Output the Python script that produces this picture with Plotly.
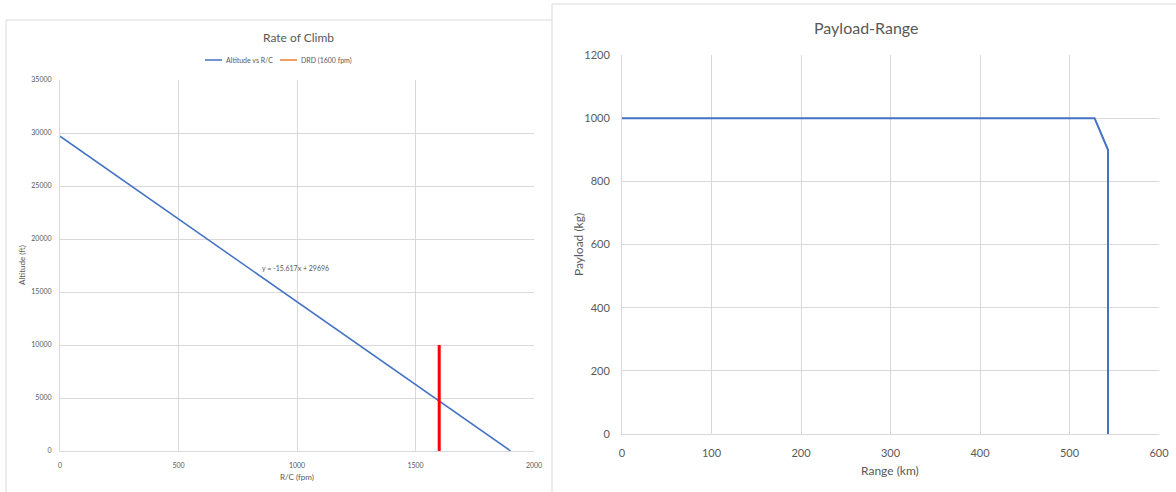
import plotly.graph_objects as go

W, H = 1176, 492

# Rate of climb: linear fit of altitude vs R/C
rc_fpm = [0, 1901.5]
altitude_ft = [29696, 0]
drd_rc = [1600, 1600]
drd_alt = [0, 10000]
fit_label = "y = -15.617x + 29696"

# Payload-range diagram
range_km = [0, 528, 543, 543]
payload_kg = [1000, 1000, 900, 0]

GRID = "#D9D9D9"
TXT = "#595959"
BLUE = "#4472C4"
ORANGE = "#ED7D31"
FONT = "Lato, 'Open Sans', sans-serif"


def px_x(p):
    return p / W


def px_y(p):
    return 1 - p / H


fig = go.Figure()

fig.add_trace(go.Scatter(x=rc_fpm, y=altitude_ft, mode="lines", name="Altitude vs R/C",
                         line=dict(color=BLUE, width=1.5), xaxis="x", yaxis="y"))
fig.add_trace(go.Scatter(x=drd_rc, y=drd_alt, mode="lines", name="DRD (1600 fpm)",
                         line=dict(color="#FF0000", width=3), xaxis="x", yaxis="y"))
fig.add_trace(go.Scatter(x=range_km, y=payload_kg, mode="lines", name="Payload-Range",
                         line=dict(color=BLUE, width=2), xaxis="x2", yaxis="y2"))


def axis(size, standoff, **kw):
    return dict(showgrid=True, gridcolor=GRID, gridwidth=1, zeroline=False,
                showline=True, linecolor=GRID, linewidth=1, ticks="", tickformat="d",
                automargin=False, ticklabelstandoff=standoff,
                tickfont=dict(family=FONT, color=TXT, size=size), **kw)


fig.update_layout(
    template="none",
    width=W, height=H,
    margin=dict(l=0, r=0, t=0, b=0, pad=0),
    paper_bgcolor="white", plot_bgcolor="white",
    font=dict(family=FONT, color=TXT),
    showlegend=False,
    xaxis=axis(7, 8, domain=[px_x(60), px_x(534)], range=[0, 2000], dtick=500, anchor="y"),
    yaxis=axis(7, 6, domain=[px_y(451), px_y(80)], range=[0, 35000], dtick=5000, anchor="x"),
    xaxis2=axis(11, 9, domain=[px_x(622), px_x(1159)], range=[0, 600], dtick=100, anchor="y2"),
    yaxis2=axis(11, 9, domain=[px_y(434), px_y(55)], range=[0, 1200], dtick=200, anchor="x2"),
)

annotations = [
    dict(text="Rate of Climb", x=px_x(298), y=px_y(37), size=12, xanchor="center"),
    dict(text="R/C (fpm)", x=px_x(297), y=px_y(477), size=8, xanchor="center"),
    dict(text="Altitude (ft)", x=px_x(22), y=px_y(265), size=8, xanchor="center", textangle=-90),
    dict(text="Payload-Range", x=px_x(866), y=px_y(27), size=16, xanchor="center"),
    dict(text="Range (km)", x=px_x(890), y=px_y(470), size=12, xanchor="center"),
    dict(text="Payload (kg)", x=px_x(578), y=px_y(245), size=12, xanchor="center", textangle=-90),
    # legend labels
    dict(text="Altitude vs R/C", x=px_x(224), y=px_y(60), size=7, xanchor="left"),
    dict(text="DRD (1600 fpm)", x=px_x(299), y=px_y(60), size=7, xanchor="left"),
]
for a in annotations:
    fig.add_annotation(xref="paper", yref="paper", showarrow=False,
                       xanchor=a["xanchor"], yanchor="middle",
                       font=dict(family=FONT, color=TXT, size=a["size"]),
                       text=a["text"], x=a["x"], y=a["y"], textangle=a.get("textangle", 0))

# Trendline equation label
fig.add_annotation(xref="x", yref="y", x=995, y=17300, text=fit_label, showarrow=False,
                   font=dict(family=FONT, size=7, color=TXT))

# Legend swatches
for (x0, x1, col) in [(205, 222, BLUE), (280, 297, ORANGE)]:
    fig.add_shape(type="line", xref="paper", yref="paper",
                  x0=px_x(x0), x1=px_x(x1), y0=px_y(60), y1=px_y(60),
                  line=dict(color=col, width=1.5))

# Chart frames
frame = dict(type="line", xref="paper", yref="paper", line=dict(color=GRID, width=1))
fig.add_shape(**frame, x0=px_x(6), y0=0, x1=px_x(6), y1=px_y(20))
fig.add_shape(**frame, x0=px_x(6), y0=px_y(20), x1=px_x(552), y1=px_y(20))
fig.add_shape(**frame, x0=px_x(552), y0=0, x1=px_x(552), y1=px_y(4))
fig.add_shape(**frame, x0=px_x(552), y0=px_y(4), x1=1, y1=px_y(4))

fig.write_html("out.html")
